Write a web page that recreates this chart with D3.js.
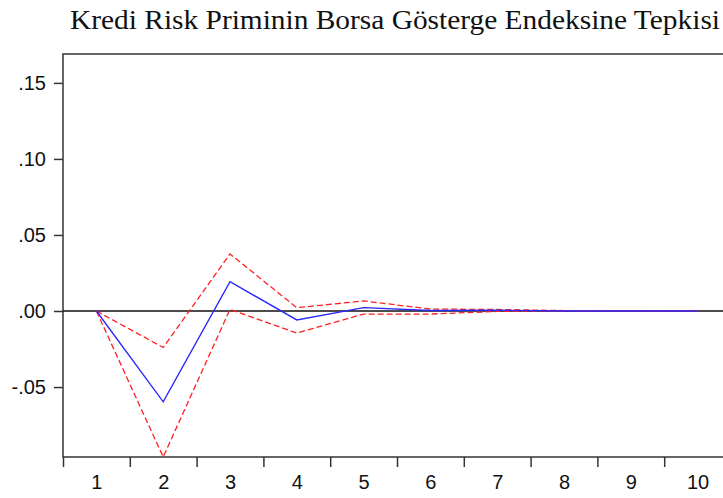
<!DOCTYPE html>
<html>
<head>
<meta charset="utf-8">
<script src="https://cdn.jsdelivr.net/npm/d3@7"></script>
<style>
  body { margin: 0; background: #fff; }
  svg { display: block; }
</style>
</head>
<body>
<div id="chart"></div>
<script>
const width = 723;
const height = 498;

// impulse response periods and values
const periods = [1, 2, 3, 4, 5, 6, 7, 8, 9, 10];
const response = [0, -0.0597, 0.0193, -0.0059, 0.0022, 0.0003, 0.0005, 0, 0, 0];
const upperBand = [0, -0.024, 0.0375, 0.0022, 0.0066, 0.0013, 0.001, 0.0003, 0.0001, 0];
const lowerBand = [0, -0.096, 0.0011, -0.0145, -0.002, -0.002, -0.0003, 0, 0, 0];
const yTicks = [-0.05, 0, 0.05, 0.10, 0.15];
const title = "Kredi Risk Priminin Borsa Gösterge Endeksine Tepkisi";

const plotLeft = 63, plotRight = 731, plotTop = 54, plotBottom = 457;

const x = d3.scaleLinear().domain([0.5, 10.5]).range([plotLeft, plotRight]);
const y = d3.scaleLinear().domain([-0.096, 0.169]).range([plotBottom, plotTop]);

const svg = d3.select('#chart').append('svg')
  .attr('width', width)
  .attr('height', height);

svg.append('text')
  .attr('x', 70)
  .attr('y', 29)
  .attr('font-family', '"Liberation Serif", "Times New Roman", serif')
  .attr('font-size', 26.5)
  .attr('textLength', 650)
  .attr('lengthAdjust', 'spacingAndGlyphs')
  .attr('fill', '#111')
  .text(title);

// frame
svg.append('rect')
  .attr('x', plotLeft).attr('y', plotTop)
  .attr('width', plotRight - plotLeft).attr('height', plotBottom - plotTop)
  .attr('fill', 'none')
  .attr('stroke', '#333')
  .attr('stroke-width', 1.5);

const fmt = d => (d < 0 ? '-' : '') + d3.format('.2f')(Math.abs(d)).replace(/^0/, '');

const yAxis = svg.append('g')
  .attr('transform', `translate(${plotLeft},0)`)
  .call(d3.axisLeft(y).tickValues(yTicks).tickFormat(fmt).tickSize(9).tickPadding(8));
yAxis.select('.domain').remove();
yAxis.selectAll('line').attr('stroke', '#333').attr('stroke-width', 1.5);
yAxis.selectAll('text')
  .attr('font-family', '"Liberation Sans", Arial, sans-serif')
  .attr('font-size', 20)
  .attr('fill', '#111');

// x ticks sit between periods
const xTickPos = d3.range(0.5, 11, 1);
const xTicks = svg.append('g')
  .attr('transform', `translate(0,${plotBottom})`)
  .call(d3.axisBottom(x).tickValues(xTickPos).tickFormat('').tickSize(10));
xTicks.select('.domain').remove();
xTicks.selectAll('line').attr('stroke', '#333').attr('stroke-width', 1.5);

const xLabels = svg.append('g')
  .attr('transform', `translate(0,${plotBottom})`)
  .call(d3.axisBottom(x).tickValues(periods).tickFormat(d3.format('d')).tickSize(0).tickPadding(18));
xLabels.select('.domain').remove();
xLabels.selectAll('text')
  .attr('font-family', '"Liberation Sans", Arial, sans-serif')
  .attr('font-size', 20)
  .attr('fill', '#111');

// zero line
svg.append('line')
  .attr('x1', plotLeft).attr('x2', plotRight)
  .attr('y1', y(0)).attr('y2', y(0))
  .attr('stroke', '#111')
  .attr('stroke-width', 1.3);

const line = d3.line()
  .x((d, i) => x(periods[i]))
  .y(d => y(d));

svg.append('path')
  .datum(upperBand)
  .attr('d', line)
  .attr('fill', 'none')
  .attr('stroke', '#ff2020')
  .attr('stroke-width', 1.3)
  .attr('stroke-dasharray', '6,3');

svg.append('path')
  .datum(lowerBand)
  .attr('d', line)
  .attr('fill', 'none')
  .attr('stroke', '#ff2020')
  .attr('stroke-width', 1.3)
  .attr('stroke-dasharray', '6,3');

svg.append('path')
  .datum(response)
  .attr('d', line)
  .attr('fill', 'none')
  .attr('stroke', '#2a2aff')
  .attr('stroke-width', 1.4);
</script>
</body>
</html>
